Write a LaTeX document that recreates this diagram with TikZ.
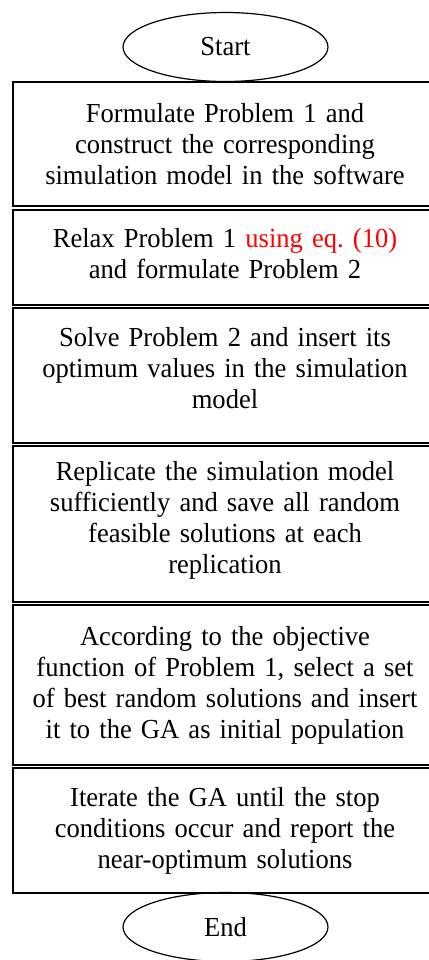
\documentclass[tikz,border=0pt]{standalone}
\usepackage{fontspec}
\setmainfont{Liberation Serif}[FakeStretch=0.965]
\usetikzlibrary{shapes.geometric}
\tikzset{
  terminal/.style={ellipse, draw, line width=1.2pt, minimum width=205pt, minimum height=69pt, inner sep=0pt},
  stepbox/.style={rectangle, draw, line width=1.6pt, minimum width=424pt, text width=415pt, align=center, inner sep=0pt},
}
\newcommand{\liftby}[1]{\par\kern#1}
\begin{document}
\begin{tikzpicture}[x=1pt, y=1pt, font=\fontsize{27.5}{31}\selectfont]
       \useasboundingbox (0,0) rectangle (428,-960);
       \node[terminal] (start) at (225.5,-47) {Start};
       \node[stepbox, minimum height=124pt] (formulate) at (225,-144) {Formulate Problem 1 and\\construct the corresponding\\simulation model in the software};
       \node[stepbox, minimum height=95pt] (relax) at (225,-257.5) {Relax Problem 1 \textcolor{red}{using eq.\ (10)}\\and formulate Problem 2\liftby{8pt}};
       \node[stepbox, minimum height=135pt] (solve) at (225,-375.5) {Solve Problem 2 and insert its\\optimum values in the simulation\\model\liftby{14pt}};
       \node[stepbox, minimum height=156pt] (replicate) at (225,-524) {Replicate the simulation model\\sufficiently and save all random\\feasible solutions at each\\replication\liftby{8pt}};
       \node[stepbox, minimum height=160pt] (select) at (225,-685) {According to the objective\\function of Problem 1, select a set\\of best random solutions and insert\\it to the GA as initial population};
       \node[stepbox, minimum height=125pt] (iterate) at (225,-830.5) {Iterate the GA until the stop\\conditions occur and report the\\near-optimum solutions};
       \node[terminal] (end) at (225.5,-927) {End};
    \end{tikzpicture}
\end{document}
